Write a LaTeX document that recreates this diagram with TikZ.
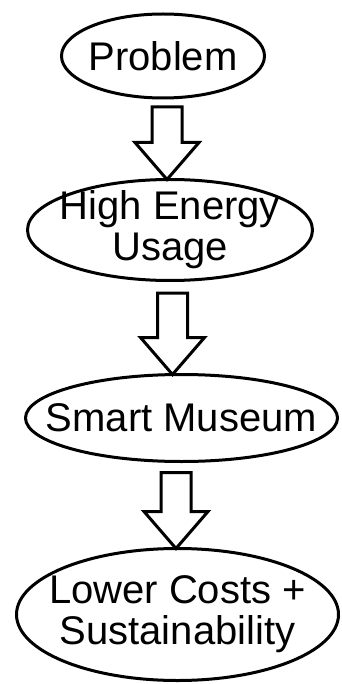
\documentclass[tikz,border=0pt]{standalone}
\usepackage{fontspec}
\setmainfont{Liberation Sans}
\usetikzlibrary{shapes.geometric,calc}

\tikzset{
  bubble/.style={draw=black, line width=3pt, ellipse, outer sep=0pt,
    inner xsep=-30pt, inner ysep=-10pt, align=center,
    font=\fontsize{40}{41}\selectfont},
  blockarrow/.style={draw=black, line width=3pt, fill=white, line join=miter,
    to path={($(\tikztostart)+(-15,0)$) -- ($(\tikztostart)+(15,0)$)
      -- ($(\tikztotarget)+(15,37)$) -- ($(\tikztotarget)+(32,37)$)
      -- (\tikztotarget)
      -- ($(\tikztotarget)+(-32,37)$) -- ($(\tikztotarget)+(-15,37)$) -- cycle}}
}

\begin{document}
\begin{tikzpicture}[x=1pt,y=1pt]
\useasboundingbox (0,0) rectangle (341,-684);
% the four steps
\node[bubble, minimum width=203, minimum height=84] (prob) at (163,-56) {Problem};
\node[bubble, minimum width=285, minimum height=101] (energy) at (170,-230) {High Energy\\Usage};
\node[bubble, minimum width=312, minimum height=87] (museum) at (181.5,-418) {Smart Museum};
\node[bubble, minimum width=322, minimum height=132] (costs) at (177.5,-614.5) {Lower Costs +\\Sustainability};
% hollow arrows between them
\coordinate (s1) at ($(prob.south)+(4,-9)$);
\coordinate (s2) at ($(energy.south)+(2.5,-12.5)$);
\coordinate (s3) at ($(museum.south)+(-5.5,-11)$);
\draw[blockarrow] (s1) to (s1 |- energy.north);
\draw[blockarrow] (s2) to (s2 |- museum.north);
\draw[blockarrow] (s3) to (s3 |- costs.north);
\end{tikzpicture}
\end{document}
